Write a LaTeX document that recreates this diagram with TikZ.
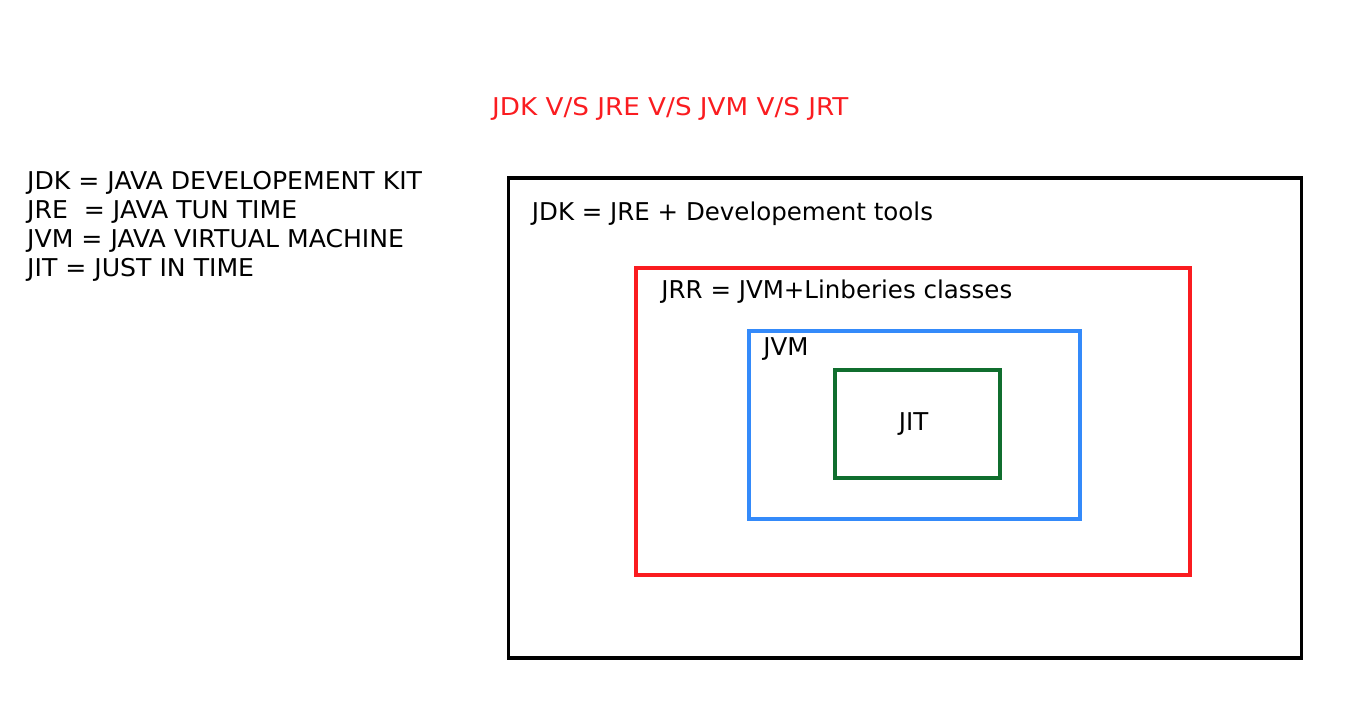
\documentclass[tikz,border=0pt]{standalone}
\usepackage{fontspec}
\setmainfont{DejaVu Sans}
\usetikzlibrary{positioning,calc}

\definecolor{jred}{RGB}{250,28,32}
\definecolor{jblue}{RGB}{52,138,250}
\definecolor{jgreen}{RGB}{16,110,46}

\begin{document}
\begin{tikzpicture}[
	x=1pt, y=-1pt,
	font=\fontsize{24.5}{29}\selectfont,
	frame/.style={
		draw,
		line width=3.5pt,
		inner sep=0pt,
	},
	txt/.style={
		anchor=base west,
		inner sep=0pt,
	},
]
\useasboundingbox (0,0) rectangle (1366,715);

% --- Titulek ---
\node[txt, text=jred, font=\fontsize{24.5}{29}\selectfont\addfontfeature{FakeStretch=1.07}]
	(title) at (492,115) {JDK V/S JRE V/S JVM V/S JRT};

% --- Legenda vlevo ---
\node[txt, align=left, anchor=north west, font=\fontsize{24.5}{29}\selectfont\addfontfeature{FakeStretch=1.026}]
	(legend) at (27,171.5) {%
	JDK = JAVA DEVELOPEMENT KIT\\
	JRE \ = JAVA TUN TIME\\
	JVM = JAVA VIRTUAL MACHINE\\
	JIT = JUST IN TIME%
};

% --- Vnořené rámečky ---
\node[frame, minimum width=793, minimum height=480] (jdk) at (905,418) {};
\node[frame, draw=jred, minimum width=554, minimum height=307] (jre) at (913,421.5) {};
\node[frame, draw=jblue, minimum width=331, minimum height=188] (jvm) at (914.5,425) {};
\node[frame, draw=jgreen, minimum width=165, minimum height=108] (jit) at (917.5,424) {};
\node[inner sep=0pt] (jitlbl) at ($(jit.center)+(-4,0)$) {JIT};

% --- Popisky rámečků ---
\node[txt] (jdklbl) at ($(jdk.north west)+(25,44)$) {JDK = JRE + Developement tools};
\node[txt] (jrelbl) at ($(jre.north west)+(27,32)$) {JRR = JVM+Linberies classes};
\node[txt] (jvmlbl) at ($(jvm.north west)+(16,26)$) {JVM};

\end{tikzpicture}
\end{document}
